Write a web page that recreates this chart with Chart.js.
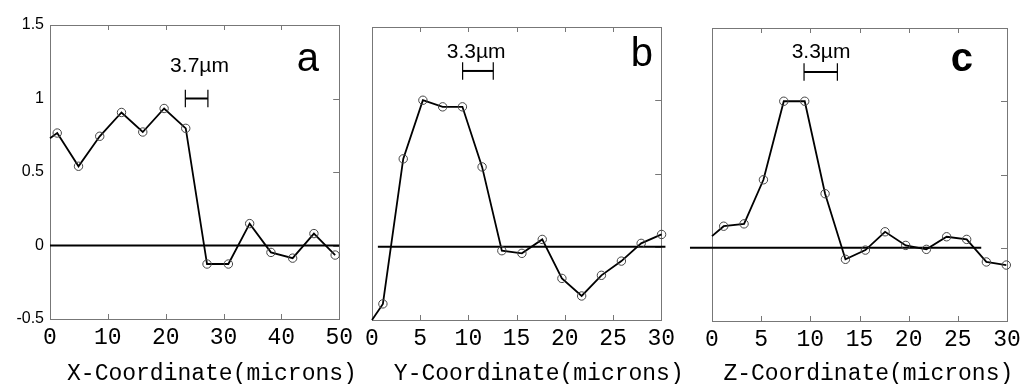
<!DOCTYPE html>
<html>

<head>
  <title>Coordinate profiles</title>
  <script type="text/javascript" src="https://cdn.jsdelivr.net/npm/chart.js"></script>
  <style>
    body { margin: 0; background: #fff; overflow: hidden; }
    .panel { position: absolute; top: 0; height: 384px; }
  </style>
</head>

<body>

  <div class="panel" style="left:0px; width:358px"><canvas id="chart-a"></canvas></div>
  <div class="panel" style="left:340px; width:340px"><canvas id="chart-b"></canvas></div>
  <div class="panel" style="left:676px; width:350px"><canvas id="chart-c"></canvas></div>

  <script type="text/javascript">
    // profile along X
    const xA = [0, 1.25, 4.93, 8.6, 12.36, 16.04, 19.73, 23.47, 27.15, 30.84, 34.52, 38.2, 41.95, 45.63, 49.3];
    const yA = [0.73, 0.765, 0.539, 0.743, 0.905, 0.772, 0.932, 0.797, -0.126, -0.126, 0.149, -0.047, -0.086, 0.081, -0.065];
    // profile along Y
    const xB = [0, 1.13, 3.24, 5.28, 7.33, 9.38, 11.42, 13.47, 15.55, 17.66, 19.7, 21.75, 23.8, 25.87, 27.92, 30.04];
    const yB = [-0.5, -0.39, 0.6, 1.0, 0.955, 0.955, 0.545, -0.027, -0.045, 0.05, -0.216, -0.336, -0.195, -0.098, 0.023, 0.084];
    // profile along Z
    const xC = [0, 1.19, 3.26, 5.23, 7.3, 9.43, 11.5, 13.57, 15.6, 17.6, 19.7, 21.8, 23.86, 25.9, 27.9, 29.93];
    const yC = [0.079, 0.147, 0.163, 0.464, 1.0, 1.0, 0.369, -0.079, -0.016, 0.109, 0.016, -0.011, 0.075, 0.057, -0.097, -0.118];

    // zero reference lines [x start, x end]
    const zeroA = [0, 50];
    const zeroB = [0.61, 30.44];
    const zeroC = [-2.24, 27.38];

    // scale bars [x start, x end, y]
    const barA = [23.4, 27.3, 1.0];
    const barB = [9.4, 12.58, 1.2];
    const barC = [9.36, 12.75, 1.2];
    const barLabels = ['3.7\u00b5m', '3.3\u00b5m', '3.3\u00b5m'];

    const panelLetters = ['a', 'b', 'c'];
    const axisTitles = ['X-Coordinate(microns)', 'Y-Coordinate(microns)', 'Z-Coordinate(microns)'];
    const xMaxes = [50, 30, 30];
    const xSteps = [10, 5, 5];

    const MONO = '"Liberation Mono", "Courier New", monospace';
    const SANS = 'Arial, "Liberation Sans", sans-serif';

    const overlayPlugin = {
        id: 'overlay',
        beforeDatasetsDraw(chart) {
            const ctx = chart.ctx;
            const a = chart.chartArea;
            ctx.save();
            ctx.strokeStyle = '#777';
            ctx.lineWidth = 1;
            ctx.strokeRect(Math.round(a.left) + 0.5, Math.round(a.top) + 0.5,
                           Math.round(a.right - a.left), Math.round(a.bottom - a.top));
            const xt = chart.scales.x.ticks;
            ctx.beginPath();
            for (var i = 1; i < xt.length - 1; i += 1) {
                const px = Math.round(chart.scales.x.getPixelForValue(xt[i].value)) + 0.5;
                ctx.moveTo(px, a.top);
                ctx.lineTo(px, a.top + 5);
                ctx.moveTo(px, a.bottom);
                ctx.lineTo(px, a.bottom - 5);
            }
            const yt = chart.scales.y.ticks;
            for (var j = 1; j < yt.length - 1; j += 1) {
                const py = Math.round(chart.scales.y.getPixelForValue(yt[j].value)) + 0.5;
                ctx.moveTo(a.right, py);
                ctx.lineTo(a.right - 6, py);
            }
            ctx.stroke();
            ctx.restore();
        },
        afterDraw(chart, args, opts) {
            const ctx = chart.ctx;
            ctx.save();
            ctx.fillStyle = '#000';
            ctx.textAlign = 'center';
            ctx.textBaseline = 'middle';
            for (const t of opts.texts || []) {
                ctx.font = t.font;
                const px = chart.scales.x.getPixelForValue(t.x);
                const py = t.py !== undefined ? t.py : chart.scales.y.getPixelForValue(t.y);
                ctx.fillText(t.text, px, py);
            }
            ctx.restore();
        }
    };

    function MakePanel(id, n, xs, ys, zero, bar, frame, texts) {
        const profile = xs.map((x, i) => ({x: x, y: ys[i]}));
        const cap = 0.06;
        const line = (data, width) => ({
            data: data, showLine: true, borderColor: '#000', borderWidth: width,
            pointRadius: 0, clip: false
        });
        return new Chart(document.getElementById(id), {
            type: 'scatter',
            data: {
                datasets: [
                    {
                        data: profile,
                        showLine: true,
                        borderColor: '#000',
                        borderWidth: 1.8,
                        pointRadius: ctx => ctx.dataIndex === 0 ? 0 : 4.2,
                        pointBorderColor: '#444',
                        pointBorderWidth: 1,
                        pointBackgroundColor: 'rgba(0,0,0,0)',
                        clip: false
                    },
                    line([{x: zero[0], y: 0}, {x: zero[1], y: 0}], 2),
                    line([{x: bar[0], y: bar[2]}, {x: bar[1], y: bar[2]}], 2),
                    line([{x: bar[0], y: bar[2] - cap}, {x: bar[0], y: bar[2] + cap}], 1.2),
                    line([{x: bar[1], y: bar[2] - cap}, {x: bar[1], y: bar[2] + cap}], 1.2)
                ]
            },
            options: {
                animation: false,
                responsive: true,
                maintainAspectRatio: false,
                layout: { padding: { top: frame.top, right: frame.right, left: 0, bottom: 0 } },
                plugins: {
                    legend: { display: false },
                    tooltip: { enabled: false },
                    overlay: { texts: texts.concat([
                        { text: axisTitles[n], x: frame.titleX, py: 374, font: '23px ' + MONO }
                    ]) }
                },
                scales: {
                    x: {
                        type: 'linear',
                        min: 0,
                        max: xMaxes[n],
                        grid: { display: false, drawTicks: false },
                        border: { display: false },
                        ticks: {
                            stepSize: xSteps[n],
                            autoSkip: false,
                            maxRotation: 0,
                            padding: 5,
                            color: '#000',
                            font: { family: MONO, size: 23 }
                        },
                        afterFit: s => { s.height = frame.xh; }
                    },
                    y: {
                        min: -0.5,
                        max: 1.5,
                        grid: { display: false, drawTicks: false },
                        border: { display: false },
                        ticks: {
                            display: n === 0,
                            stepSize: 0.5,
                            padding: 6,
                            color: '#000',
                            font: { family: SANS, size: 16 },
                            callback: v => String(v)
                        },
                        afterFit: s => { s.width = frame.yw; }
                    }
                }
            },
            plugins: [overlayPlugin]
        });
    }

    MakePanel('chart-a', 0, xA, yA, zeroA, barA, { top: 25, right: 14, xh: 65, yw: 50, titleX: 28.0 }, [
        { text: barLabels[0], x: 25.85, y: 1.22, font: '21px ' + SANS },
        { text: panelLetters[0], x: 44.6, y: 1.265, font: '40px ' + SANS }
    ]);
    MakePanel('chart-b', 1, xB, yB, zeroB, barB, { top: 27, right: 14, xh: 64, yw: 32, titleX: 17.3 }, [
        { text: barLabels[1], x: 10.8, y: 1.33, font: '21px ' + SANS },
        { text: panelLetters[1], x: 28.0, y: 1.31, font: '40px ' + SANS }
    ]);
    MakePanel('chart-c', 2, xC, yC, zeroC, barC, { top: 28, right: 19, xh: 63, yw: 36, titleX: 15.9 }, [
        { text: barLabels[2], x: 11.09, y: 1.335, font: '21px ' + SANS },
        { text: panelLetters[2], x: 25.4, y: 1.285, font: 'bold 40px ' + SANS }
    ]);
  </script>

</body>

</html>
